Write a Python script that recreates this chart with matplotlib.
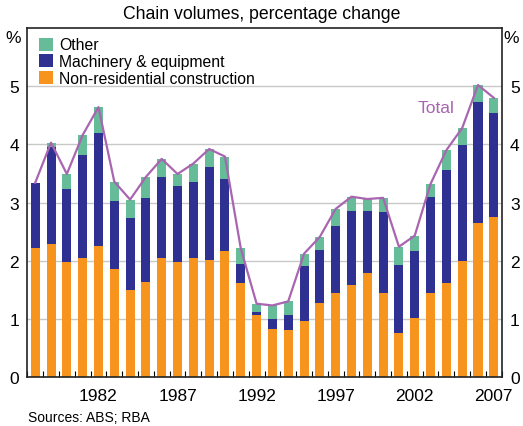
import matplotlib.pyplot as plt
import numpy as np

plt.rcParams['font.family'] = ['Liberation Sans', 'DejaVu Sans']

years = list(range(1978, 2008))
construction = [2.21, 2.28, 1.97, 2.04, 2.26, 1.85, 1.50, 1.64, 2.04, 1.97,
                2.04, 2.02, 2.17, 1.61, 1.07, 0.82, 0.80, 0.97, 1.28, 1.44,
                1.58, 1.78, 1.45, 0.75, 1.02, 1.45, 1.62, 2.00, 2.64, 2.75]
# cumulative tops
machinery_top = [3.33, 3.95, 3.24, 3.82, 4.20, 3.03, 2.74, 3.08, 3.44, 3.29,
                 3.36, 3.61, 3.41, 1.95, 1.11, 1.00, 1.07, 1.90, 2.19, 2.60,
                 2.86, 2.86, 2.84, 1.93, 2.17, 3.10, 3.56, 3.99, 4.73, 4.54]
total = [3.34, 4.03, 3.49, 4.16, 4.64, 3.36, 3.05, 3.44, 3.75, 3.49,
         3.67, 3.92, 3.79, 2.21, 1.26, 1.23, 1.30, 2.12, 2.41, 2.89,
         3.10, 3.06, 3.08, 2.24, 2.43, 3.32, 3.90, 4.28, 5.02, 4.80]
machinery = [m - c for m, c in zip(machinery_top, construction)]
other = [t - m for t, m in zip(total, machinery_top)]

c_orange = "#F7941D"
c_navy = "#2E3192"
c_green = "#66BB98"
c_purple = "#A866B0"

fig = plt.figure(figsize=(5.23, 4.27), dpi=100)
ax = fig.add_axes([0.0522, 0.1148, 0.9071, 0.8172])

x = np.arange(len(years))
w = 0.57
ax.bar(x, construction, w, color=c_orange, label="Non-residential construction", zorder=2)
ax.bar(x, machinery, w, bottom=construction, color=c_navy, label="Machinery & equipment", zorder=2)
ax.bar(x, other, w, bottom=machinery_top, color=c_green, label="Other", zorder=2)
ax.plot(x, total, color=c_purple, lw=1.6, zorder=3)

ax.set_xlim(-0.5, len(years) - 0.5)
ax.set_ylim(0, 6)
ax.set_yticks([0, 1, 2, 3, 4, 5])
ax.yaxis.grid(True, color="#C8C8C8", lw=1, zorder=0)
ax.set_axisbelow(True)

lab_idx = [years.index(y) for y in [1982, 1987, 1992, 1997, 2002, 2007]]
ax.set_xticks(lab_idx)
ax.set_xticklabels([str(years[i]) for i in lab_idx])
ax.set_xticks(np.arange(-0.5, len(years), 1), minor=True)
ax.tick_params(axis="x", which="major", length=0, labelsize=12.5, pad=8)
ax.tick_params(axis="x", which="minor", direction="in", length=4, width=0.8)
ax.tick_params(axis="y", which="both", length=0, labelsize=12.5, pad=6,
               labelleft=True, labelright=True)
for s in ax.spines.values():
    s.set_color("#222222")
    s.set_linewidth(1.2)

handles, labels = ax.get_legend_handles_labels()
ax.legend(handles[::-1], labels[::-1], loc="upper left", frameon=False,
          fontsize=11.3, handlelength=0.9, handleheight=0.9, handletextpad=0.4,
          labelspacing=0.12, borderaxespad=0.2, bbox_to_anchor=(0.005, 1.0))

ax.text(26.5, 4.55, "Total", color=c_purple, fontsize=12.5, ha="right")

fig.text(0.5, 0.967, "Chain volumes, percentage change", ha="center", va="center", fontsize=12.7)
fig.text(0.026, 0.91, "%", ha="center", va="center", fontsize=12.5)
fig.text(0.978, 0.91, "%", ha="center", va="center", fontsize=12.5)
fig.text(0.054, 0.022, "Sources: ABS; RBA", ha="left", va="center", fontsize=10)

fig.savefig("out.png", dpi=100)
